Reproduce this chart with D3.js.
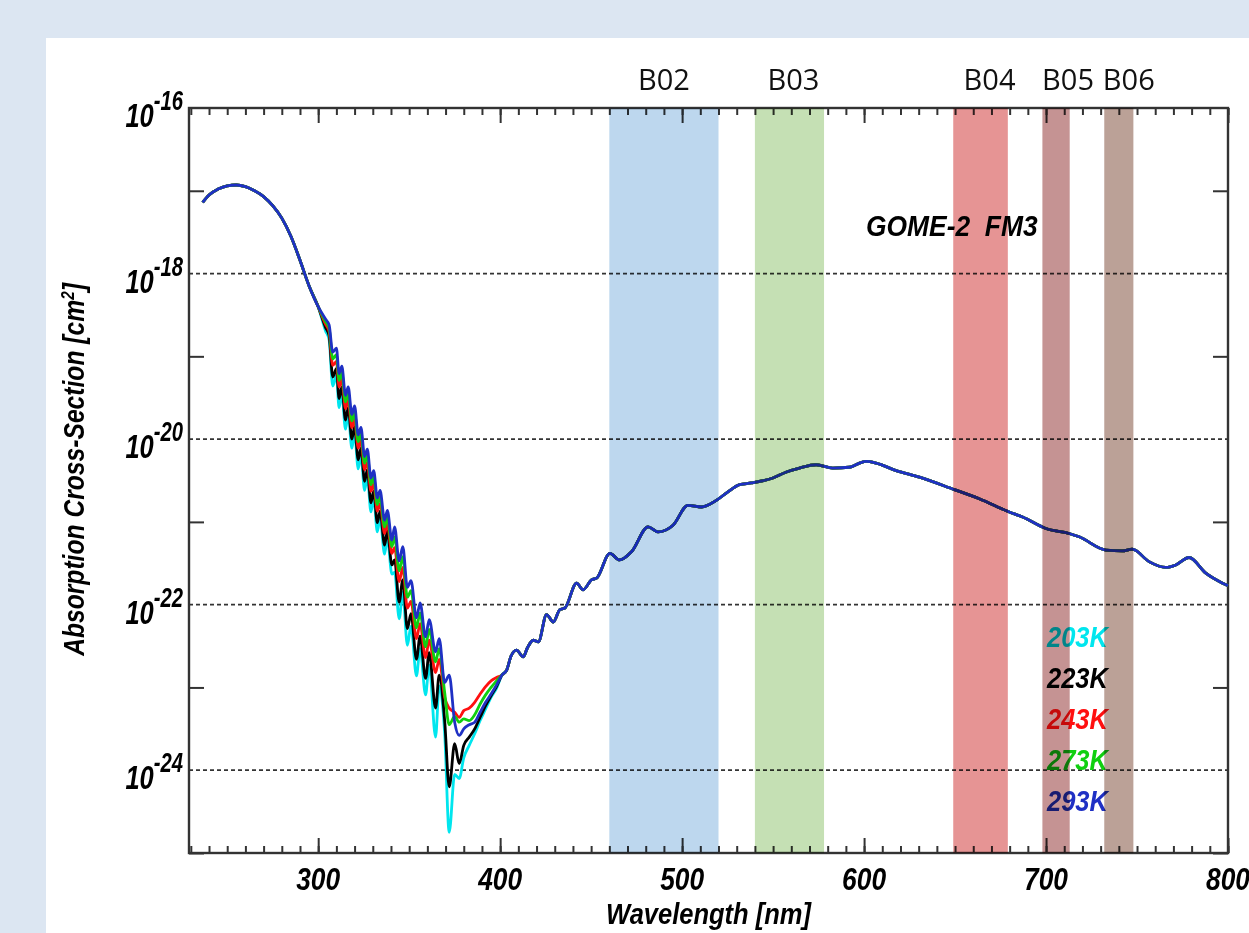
<html>
  <head>
    <script src="https://d3js.org/d3.v7.min.js"></script>
    <style>
      body { margin: 0; background: #dce6f2; }
      .bold { font-family: "Liberation Sans", Arial, sans-serif; font-weight: bold; font-style: italic; white-space: pre; }
    </style>
  </head>
  <body>
    <svg id="chart" width="1249" height="933"></svg>
    <script>
      // common part of the spectrum (log10 of cross-section, cm2)
      const wlHead = [236.5, 240, 245, 250, 255, 260, 265, 270, 275, 280, 285, 290, 295, 300];
      const logHead = [-17.14, -17.05, -16.98, -16.94, -16.93, -16.95, -17.0, -17.07, -17.18, -17.33, -17.55, -17.84, -18.15, -18.4];

      // Huggins band, temperature dependent
      const wlHug = [304, 306, 308, 310, 311.5, 313, 315, 316.5, 318.5, 320, 322, 323.5, 325.5, 327, 329, 330.5, 332.5, 334, 336.5, 338, 340.5,
        342, 344.5, 346.5, 349, 351, 354, 356, 359, 361, 364.5, 366.5, 369.5,
        372, 375, 377.5, 380, 383, 386, 389, 392, 395, 398];
      const log203 = [-18.69, -18.80, -19.36, -19.23, -19.62, -19.45, -19.88, -19.70, -20.11, -19.93, -20.36, -20.19, -20.62, -20.45, -20.88, -20.71, -21.12, -20.95, -21.39, -21.19, -21.63,
        -21.61, -22.17, -21.85, -22.49, -22.26, -22.86, -22.53, -23.09, -22.73, -23.60, -22.98, -23.55,
        -24.75, -24.05, -24.10, -23.85, -23.70, -23.56, -23.40, -23.26, -23.12, -23.01];
      const log223 = [-18.65, -18.75, -19.25, -19.15, -19.51, -19.37, -19.77, -19.62, -20.00, -19.85, -20.25, -20.11, -20.51, -20.37, -20.77, -20.63, -21.01, -20.87, -21.28, -21.11, -21.52,
        -21.46, -21.97, -21.70, -22.29, -22.11, -22.66, -22.38, -22.89, -22.58, -23.25, -22.85, -23.40,
        -24.20, -23.68, -23.92, -23.70, -23.60, -23.50, -23.36, -23.22, -23.10, -22.99];
      const log243 = [-18.61, -18.70, -19.11, -19.06, -19.37, -19.28, -19.63, -19.53, -19.86, -19.76, -20.11, -20.02, -20.37, -20.28, -20.63, -20.54, -20.87, -20.78, -21.14, -21.02, -21.38,
        -21.31, -21.72, -21.55, -22.04, -21.96, -22.41, -22.23, -22.64, -22.43, -22.82, -22.66, -23.12,
        -23.25, -23.30, -23.36, -23.28, -23.25, -23.18, -23.08, -22.99, -22.92, -22.88];
      const log273 = [-18.58, -18.66, -19.03, -18.98, -19.29, -19.20, -19.55, -19.45, -19.78, -19.68, -20.03, -19.94, -20.29, -20.20, -20.55, -20.46, -20.79, -20.70, -21.06, -20.94, -21.30,
        -21.18, -21.59, -21.42, -21.91, -21.83, -22.28, -22.10, -22.51, -22.30, -22.69, -22.53, -23.06,
        -23.45, -23.35, -23.42, -23.38, -23.40, -23.33, -23.20, -23.09, -23.00, -22.92];
      const log293 = [-18.55, -18.62, -18.95, -18.90, -19.21, -19.12, -19.47, -19.37, -19.70, -19.60, -19.95, -19.86, -20.21, -20.12, -20.47, -20.38, -20.71, -20.62, -20.98, -20.86, -21.22,
        -21.06, -21.47, -21.30, -21.79, -21.71, -22.16, -21.98, -22.39, -22.18, -22.57, -22.41, -22.94,
        -22.85, -23.42, -23.58, -23.50, -23.45, -23.42, -23.30, -23.18, -23.08, -22.97];

      // Chappuis band, common
      const wlTail = [401, 403.6, 406, 409, 412.7, 415, 418.2, 421, 425.5, 429.2, 432.8, 435.6, 442, 445.6, 450.2, 453, 460.3, 465.7, 472.2,
        481.3, 486.8, 495, 503.2, 510.6, 518.8, 525, 531.6, 538, 549.9, 557, 564.5, 573.7, 582.8, 592, 597.5, 601.1, 606.6, 617.6,
        630.4, 649.6, 663.3, 679.8, 687.1, 699.9, 712.7, 718.2, 732.9, 741.9, 747.4, 756.6, 765.8, 771.3, 778.6, 787.8, 797, 800];
      const logTail = [-22.85, -22.79, -22.62, -22.55, -22.63, -22.52, -22.43, -22.45, -22.12, -22.21, -22.06, -22.04, -21.74, -21.82, -21.70, -21.68, -21.38, -21.46, -21.36,
        -21.06, -21.12, -21.04, -20.80, -20.82, -20.74, -20.64, -20.55, -20.53, -20.47, -20.40, -20.35, -20.31, -20.35, -20.34, -20.29, -20.27, -20.29, -20.38,
        -20.46, -20.61, -20.72, -20.88, -20.94, -21.08, -21.14, -21.18, -21.34, -21.35, -21.33, -21.48, -21.55, -21.52, -21.43, -21.62, -21.74, -21.77];

      const temps = ["203K", "223K", "243K", "273K", "293K"];
      const tempColors = ["#00e6ee", "#000000", "#ff1010", "#10d010", "#1f30c4"];
      const hugLogs = [log203, log223, log243, log273, log293];

      const bandNames = ["B02", "B03", "B04", "B05", "B06"];
      const bandStart = [460, 540, 649, 698, 732];
      const bandEnd = [520, 578, 679, 713, 748];
      const bandColors = ["#bdd7ee", "#c5e0b4", "#e69494", "#c59393", "#bba197"];

      const xMajor = [300, 400, 500, 600, 700, 800];
      const xMinor = d3.range(230, 801, 10);
      const yLabelExps = [-16, -18, -20, -22, -24];
      const yGridExps = [-18, -20, -22, -24];
      const yTickExps = [-17, -19, -21, -23, -25];

      const svg = d3.select("#chart");
      const pLeft = 189, pRight = 1228, pTop = 108, pBottom = 853;

      svg.append("rect").attr("x", 46).attr("y", 38)
        .attr("width", 1249 - 46).attr("height", 933 - 38).attr("fill", "#fff");

      const x = d3.scaleLinear().domain([229, 800]).range([pLeft, pRight]);
      const y = d3.scaleLog().domain([1e-25, 1e-16]).range([pBottom, pTop]);

      // narrow bold italic text, like the IDL plot font
      function narrow(parent, tx, ty, size, anchor, extra, sx) {
        return parent.append("g")
          .attr("transform", `translate(${tx},${ty})${extra || ""} scale(${sx || 0.85},1)`)
          .append("text")
          .attr("class", "bold")
          .attr("font-size", size)
          .attr("text-anchor", anchor);
      }

      // dotted grid lines
      svg.append("g").selectAll("line").data(yGridExps).join("line")
        .attr("x1", pLeft).attr("x2", pRight)
        .attr("y1", d => y(10 ** d)).attr("y2", d => y(10 ** d))
        .attr("stroke", "#333").attr("stroke-width", 1.7)
        .attr("stroke-dasharray", "4,3");

      const tickStyle = g => {
        g.select(".domain").remove();
        g.selectAll("line").attr("stroke", "#333").attr("stroke-width", 2);
      };

      svg.append("g").attr("transform", `translate(0,${pBottom})`)
        .call(d3.axisBottom(x).tickValues(xMinor).tickSize(-7).tickFormat("")).call(tickStyle);
      svg.append("g").attr("transform", `translate(0,${pBottom})`)
        .call(d3.axisBottom(x).tickValues(xMajor).tickSize(-15).tickFormat("")).call(tickStyle);
      svg.append("g").attr("transform", `translate(0,${pTop})`)
        .call(d3.axisTop(x).tickValues(xMinor).tickSize(-7).tickFormat("")).call(tickStyle);
      svg.append("g").attr("transform", `translate(0,${pTop})`)
        .call(d3.axisTop(x).tickValues(xMajor).tickSize(-15).tickFormat("")).call(tickStyle);
      svg.append("g").attr("transform", `translate(${pLeft},0)`)
        .call(d3.axisLeft(y).tickValues(yTickExps.map(e => 10 ** e)).tickSize(-15).tickFormat("")).call(tickStyle);
      svg.append("g").attr("transform", `translate(${pRight},0)`)
        .call(d3.axisRight(y).tickValues(yTickExps.map(e => 10 ** e)).tickSize(-15).tickFormat("")).call(tickStyle);

      svg.append("rect").attr("x", pLeft).attr("y", pTop)
        .attr("width", pRight - pLeft).attr("height", pBottom - pTop)
        .attr("fill", "none").attr("stroke", "#333").attr("stroke-width", 2.4);

      // curves
      const line = d3.line()
        .x(d => x(d[0]))
        .y(d => y(10 ** d[1]))
        .curve(d3.curveMonotoneX);

      temps.forEach((t, i) => {
        const pts = wlHead.map((w, j) => [w, logHead[j]])
          .concat(wlHug.map((w, j) => [w, hugLogs[i][j]]))
          .concat(wlTail.map((w, j) => [w, logTail[j]]));
        svg.append("path").datum(pts)
          .attr("d", line)
          .attr("fill", "none")
          .attr("stroke", tempColors[i])
          .attr("stroke-width", 2.8)
          .attr("stroke-linejoin", "round");
      });

      // axis labels
      xMajor.forEach(v => {
        narrow(svg, x(v), 890, 31, "middle").text(v);
      });
      yLabelExps.forEach(e => {
        const t = narrow(svg, 183, y(10 ** e) + 19, 34, "end", "", 0.75);
        t.append("tspan").text("10");
        t.append("tspan").attr("dy", -17).attr("font-size", 27).text(e);
      });
      narrow(svg, (pLeft + pRight) / 2, 924, 30, "middle").text("Wavelength [nm]");
      const yt = narrow(svg, 84, (pTop + pBottom) / 2 - 11, 29, "middle", " rotate(-90)");
      yt.append("tspan").text("Absorption Cross-Section [cm");
      yt.append("tspan").attr("dy", -10).attr("font-size", 18).text("2");
      yt.append("tspan").attr("dy", 10).text("]");

      narrow(svg, 866, 236, 30, "start", "", 0.88).text("GOME-2  FM3");

      // legend
      temps.forEach((t, i) => {
        narrow(svg, 1047, 647 + i * 41, 30, "start").attr("fill", tempColors[i]).text(t);
      });

      // instrument bands, laid over the plot
      svg.append("g").selectAll("rect").data(bandNames).join("rect")
        .attr("x", (d, i) => x(bandStart[i]))
        .attr("width", (d, i) => x(bandEnd[i]) - x(bandStart[i]))
        .attr("y", pTop).attr("height", pBottom - pTop)
        .attr("fill", (d, i) => bandColors[i])
        .style("mix-blend-mode", "multiply");

      const labelShift = [0, 4, 9, 12, 10];
      svg.append("g").selectAll("text").data(bandNames).join("text")
        .attr("x", (d, i) => (x(bandStart[i]) + x(bandEnd[i])) / 2 + labelShift[i])
        .attr("y", 90)
        .attr("text-anchor", "middle")
        .attr("font-family", "'Open Sans', sans-serif")
        .attr("font-size", 29)
        .attr("fill", "#111")
        .text(d => d);
    </script>
  </body>
</html>
